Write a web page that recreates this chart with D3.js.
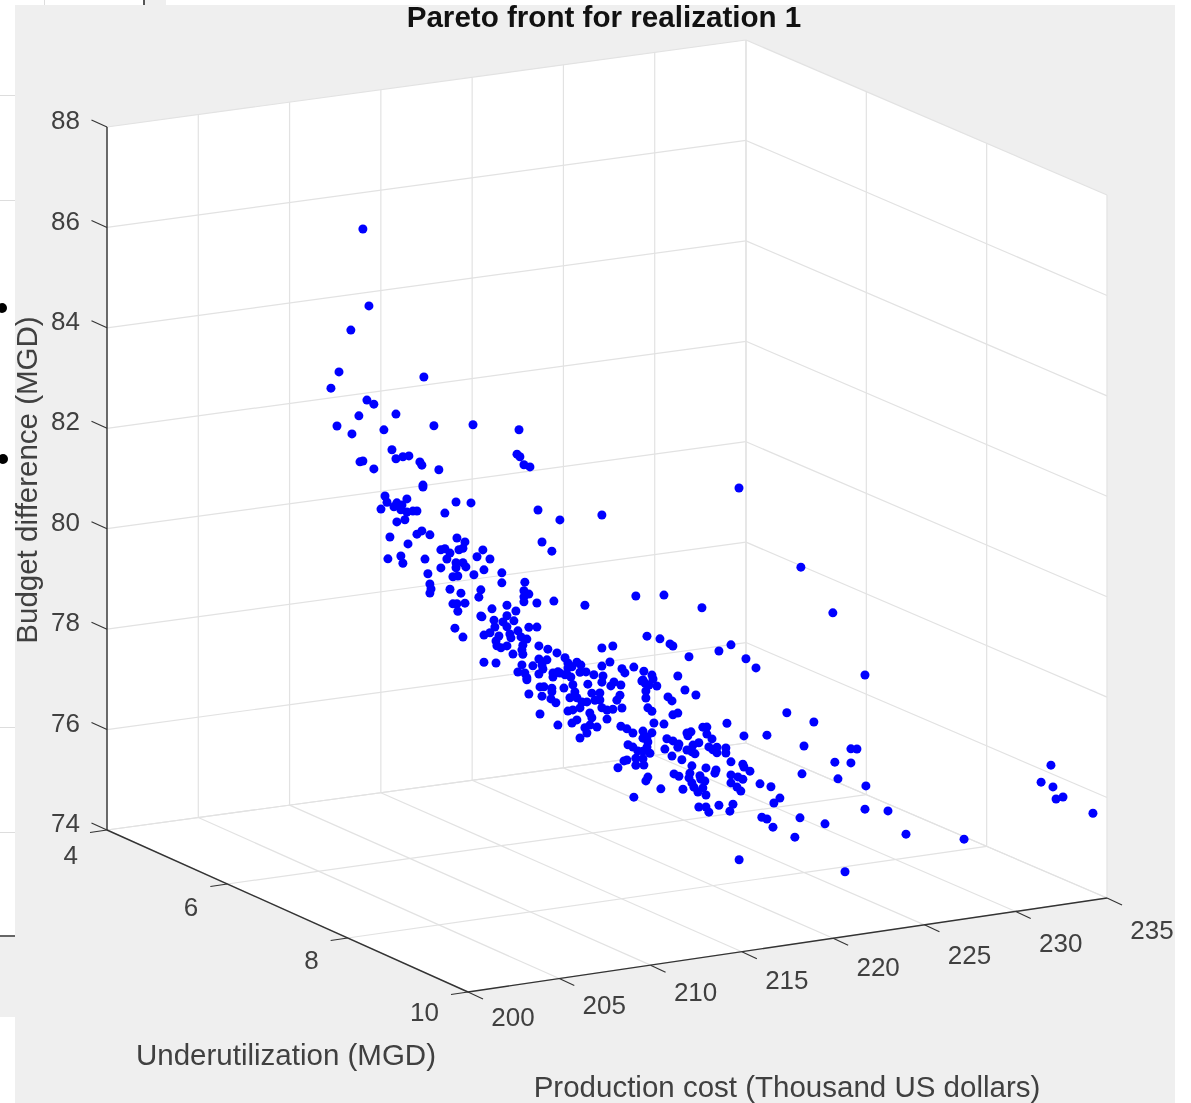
<!DOCTYPE html>
<html>
<head>
<meta charset="utf-8">
<script src="https://cdn.jsdelivr.net/npm/d3@7"></script>
<style>
  html, body { margin: 0; padding: 0; background: #fff; }
  svg { display: block; filter: blur(0.4px); }
  text { font-family: "Liberation Sans", Arial, sans-serif; }
</style>
</head>
<body>
<div id="chart"></div>
<script>
// tick labels

var costTicks = [200, 205, 210, 215, 220, 225, 230, 235];
var underTicks = [4, 6, 8, 10];
var budgetTicks = [74, 76, 78, 80, 82, 84, 86, 88];

// point values
// a single view does not show depth, so underutilization is an assumption:
// the main group is placed at underMain, and the far group at underFar
// because those dots cannot sit inside the axis box at underMain

var underMain = 7;
var underFar = 10;

var cost = [
  204.13,204.46,203.47,202.82,202.38,207.47,204.35,204.73,205.94,203.91,202.71,203.53,205.28,208.02,210.16,212.68,
  205.72,206.65,206.32,205.94,207.25,207.36,203.97,204.13,204.73,208.29,212.57,212.73,212.95,213.28,207.42,207.42,
  205.34,206.54,205.45,205.99,206.27,205.83,209.23,210.05,205.12,206.21,206.54,206.87,207.09,208.62,213.72,214.92,
  206.43,205.99,207.36,207.09,207.80,205.61,209.28,209.72,206.60,213.94,214.48,209.61,209.39,208.40,208.62,208.90,
  210.70,205.50,206.21,207.53,208.73,210.38,211.09,206.32,209.23,209.61,209.77,208.40,209.23,210.76,207.69,210.21,
  209.06,209.33,211.74,211.74,213.00,207.80,207.86,207.80,208.90,209.50,210.59,210.48,212.95,213.22,212.95,212.95,
  214.59,213.66,209.06,209.72,209.28,209.33,212.02,211.20,212.51,210.59,210.65,212.02,211.31,212.40,211.80,212.02,
  211.36,213.22,213.66,209.17,212.62,210.76,211.09,211.58,209.61,212.18,212.24,212.79,213.11,211.42,211.47,211.69,
  212.02,212.89,213.77,214.26,212.84,212.35,212.89,214.76,215.20,213.77,214.21,210.76,211.42,212.84,215.36,213.44,
  213.94,215.36,213.99,212.62,213.00,213.77,214.54,214.92,215.30,213.11,214.54,219.69,217.22,217.82,215.85,216.07,
  215.58,217.22,217.66,218.97,218.32,218.48,219.52,216.35,216.78,216.02,217.28,217.22,217.88,217.71,218.26,219.47,
  219.58,219.63,219.63,219.74,216.45,213.11,214.81,215.20,215.52,215.63,213.83,214.05,214.48,215.14,214.48,213.22,
  213.94,214.43,214.70,213.83,214.81,215.74,215.47,215.85,216.67,217.11,218.21,216.13,216.40,216.84,217.11,218.04,
  215.63,215.36,216.02,217.22,217.50,217.82,218.32,216.56,216.67,215.85,215.58,217.50,216.95,216.56,216.29,216.40,
  216.02,218.26,218.59,218.92,219.47,219.69,218.65,218.92,219.69,220.40,220.95,221.11,224.29,223.63,221.99,225.11,
  225.66,221.38,219.96,219.41,220.02,220.23,219.80,221.77,222.37,220.84,221.06,219.96,221.38,221.11,220.07,220.62,
  224.07,225.00,226.26,219.96,219.47,219.74,219.19,219.47,219.85,220.78,221.11,221.44,221.38,220.67,221.06,221.60,
  221.88,222.10,221.93,222.75,222.97,222.97,223.25,222.53,222.21,221.88,222.15,222.32,223.08,223.52,223.30,223.52,
  224.01,224.01,224.29,224.94,225.00,225.33,218.43,218.59,218.10,219.08,219.08,219.47,219.52,222.15,222.92,223.47,
  223.41,221.17,221.44,222.04,221.99,222.59,222.86,222.64,219.74,219.63,224.29,224.29,224.67,224.94,224.62,224.83,
  222.15,222.26,222.75,222.48,222.92,221.66,220.45,218.97,225.88,226.48,226.64,222.53,222.92,223.08,223.63,224.40,
  224.23,225.98,226.26,226.59,226.97,224.73,217.22,228.12,229.87,231.63,227.35,228.83,228.29,230.86,231.19,229.98,
  230.86,230.15,231.68,228.18,231.63,232.89,229.44,228.07,227.79,219.08,220.62,222.70,216.29
];

var budget = [
  87.37,85.82,85.39,84.59,84.29,84.25,83.95,83.85,83.59,83.66,83.52,83.32,83.31,83.25,83.16,82.93,
  82.89,82.72,82.72,82.70,82.57,82.50,82.74,82.75,82.56,82.36,82.45,82.39,82.22,82.16,82.10,82.06,
  81.99,81.87,81.86,81.82,81.76,81.75,81.67,81.61,81.74,81.67,81.61,81.61,81.60,81.48,81.28,81.02,
  81.46,81.44,81.19,81.14,81.09,81.16,80.95,80.85,80.97,80.63,80.42,80.73,80.71,80.76,80.77,80.67,
  80.64,80.73,80.75,80.62,80.56,80.52,80.44,80.60,80.46,80.44,80.35,80.40,80.36,80.24,80.32,80.17,
  80.19,80.19,80.13,79.93,79.88,80.11,80.01,79.93,79.95,79.84,79.85,79.71,79.71,79.63,79.59,79.49,
  79.42,79.43,79.65,79.63,79.64,79.49,79.47,79.44,79.33,79.33,79.31,79.26,79.21,79.14,79.15,79.04,
  79.07,78.97,78.95,79.16,78.93,78.94,78.97,78.88,78.96,78.89,78.81,78.80,78.74,78.79,78.69,78.64,
  78.66,78.63,78.57,78.48,78.54,78.48,78.45,78.38,78.26,78.31,78.27,78.40,78.35,78.24,78.15,78.19,
  78.18,78.05,78.10,78.11,78.07,78.01,77.99,77.97,77.93,77.97,77.91,78.46,78.35,78.36,78.14,78.07,
  78.06,77.99,78.05,77.88,77.88,77.79,77.77,77.92,77.84,77.93,77.79,77.67,77.64,77.57,77.56,77.60,
  77.53,77.37,77.23,77.03,77.67,77.93,78.00,77.92,77.86,77.70,77.75,77.74,77.69,77.66,77.62,77.64,
  77.56,77.48,77.39,77.21,76.94,77.55,77.45,77.43,77.48,77.46,77.36,77.33,77.32,77.33,77.32,77.27,
  77.20,77.19,77.22,77.16,77.10,77.10,77.10,77.09,76.99,76.99,76.94,76.92,76.79,76.85,76.81,76.70,
  76.62,76.74,76.67,76.57,76.58,76.45,76.35,76.29,76.25,78.37,78.24,78.19,78.05,77.96,77.93,77.73,
  77.52,77.58,77.67,77.58,77.59,77.44,77.48,77.28,77.15,77.19,77.10,76.95,76.84,76.82,76.71,76.66,
  76.50,76.20,76.15,76.52,76.44,76.35,76.20,76.18,76.12,76.36,76.30,76.22,76.16,76.16,76.00,75.90,
  76.42,76.43,76.36,76.49,76.48,76.34,76.23,76.19,76.16,76.08,76.03,75.98,76.08,76.05,76.01,75.94,
  76.01,75.91,75.72,75.64,75.58,75.48,76.04,76.05,75.92,76.06,75.92,76.03,75.90,75.75,75.67,75.60,
  75.54,75.64,75.58,75.61,75.52,75.53,75.41,75.46,75.65,75.58,75.46,75.30,75.40,75.34,75.20,75.11,
  75.41,75.32,75.28,75.21,75.13,75.31,75.38,75.29,75.20,75.11,74.78,74.91,74.89,74.78,74.89,74.87,
  74.74,74.53,74.48,74.30,74.86,81.15,81.00,79.40,78.40,77.07,76.54,76.28,75.83,75.64,75.62,75.42,
  75.36,75.08,74.86,75.28,74.40,74.30,74.22,74.41,74.04,79.29,79.23,78.87,79.25
];

var costFar = [223.99,227.17,214.85,220.65,231.93,231.39,232.04,232.59,232.21,234.23];
var budgetFar = [75.86,75.59,75.84,75.29,76.81,76.50,76.37,76.14,76.12,75.73];

// initial settings

var svgWidth = 1191;
var svgHeight = 1103;

var axisColor = "#333333";
var gridColor = "#e2e2e2";
var textColor = "#404040";

var svg = d3.select("#chart")
  .append("svg")
  .attr("width", svgWidth)
  .attr("height", svgHeight);

// scales: cost and underutilization to 0..1 along the floor, budget to pixels up

var uScale = d3.scaleLinear().domain([200, 235]).range([0, 1]);
var vScale = d3.scaleLinear().domain([4, 10]).range([0, 1]);
var zScale = d3.scaleLinear().domain([74, 88]).range([0, 703]);

// projection of the matlab box, the small uv term is the perspective of the view

function project(x, y, z) {
  var u = uScale(x);
  var v = vScale(y);
  return [
    107 + 639 * u + 361 * v,
    830 - 87 * u + 162 * v - 7 * u * v - zScale(z)
  ];
}

function addLine(g, a, b, color, width) {
  g.append("line")
    .attr("x1", a[0]).attr("y1", a[1])
    .attr("x2", b[0]).attr("y2", b[1])
    .attr("stroke", color)
    .attr("stroke-width", width);
}

// figure background and the bits of other windows around it

svg.append("rect")
  .attr("x", 15).attr("y", 5)
  .attr("width", 1160).attr("height", 1098)
  .attr("fill", "#efefef");

var edge = svg.append("g");
edge.append("rect").attr("x", 0).attr("y", 936).attr("width", 15).attr("height", 81).attr("fill", "#efefef");
edge.append("rect").attr("x", 145).attr("y", 0).attr("width", 21).attr("height", 5).attr("fill", "#efefef");
edge.append("rect").attr("x", 143).attr("y", 0).attr("width", 2).attr("height", 5).attr("fill", "#555555");
edge.append("rect").attr("x", 44).attr("y", 0).attr("width", 1).attr("height", 5).attr("fill", "#dddddd");
[95, 200, 727, 832].forEach(function (y) {
  edge.append("rect").attr("x", 0).attr("y", y).attr("width", 15).attr("height", 1).attr("fill", "#dddddd");
});
edge.append("rect").attr("x", 0).attr("y", 935).attr("width", 15).attr("height", 2).attr("fill", "#666666");
edge.append("circle").attr("cx", 2).attr("cy", 308).attr("r", 5).attr("fill", "#000");
edge.append("circle").attr("cx", 3).attr("cy", 459).attr("r", 5).attr("fill", "#000");

// white faces of the box

var corners = [
  project(200, 4, 88), project(235, 4, 88), project(235, 10, 88),
  project(235, 10, 74), project(200, 10, 74), project(200, 4, 74)
];

svg.append("polygon")
  .attr("points", corners.map(d => d.join(",")).join(" "))
  .attr("fill", "#fff");

// grid lines

var grid = svg.append("g");

costTicks.forEach(function (t) {
  addLine(grid, project(t, 4, 74), project(t, 4, 88), gridColor, 1.2);
  addLine(grid, project(t, 4, 74), project(t, 10, 74), gridColor, 1.2);
});

underTicks.forEach(function (t) {
  addLine(grid, project(235, t, 74), project(235, t, 88), gridColor, 1.2);
  addLine(grid, project(200, t, 74), project(235, t, 74), gridColor, 1.2);
});

budgetTicks.forEach(function (t) {
  addLine(grid, project(200, 4, t), project(235, 4, t), gridColor, 1.2);
  addLine(grid, project(235, 4, t), project(235, 10, t), gridColor, 1.2);
});

// axes and tick marks

var axes = svg.append("g");

addLine(axes, project(200, 4, 74), project(200, 4, 88), axisColor, 1.4);
addLine(axes, project(200, 4, 74), project(200, 10, 74), axisColor, 1.4);
addLine(axes, project(200, 10, 74), project(235, 10, 74), axisColor, 1.4);

budgetTicks.forEach(function (t) {
  var p = project(200, 4, t);
  addLine(axes, p, [p[0] - 15.5, p[1] - 7], axisColor, 1.1);
  axes.append("text")
    .attr("x", 80)
    .attr("y", p[1] - 7)
    .attr("dy", "0.35em")
    .attr("text-anchor", "end")
    .attr("font-size", 26)
    .attr("fill", textColor)
    .text(t);
});

underTicks.forEach(function (t) {
  var p = project(200, t, 74);
  addLine(axes, p, [p[0] - 17, p[1] + 2.5], axisColor, 1.1);
  axes.append("text")
    .attr("x", p[0] - 29)
    .attr("y", p[1] + 25 - 5 * vScale(t))
    .attr("dy", "0.35em")
    .attr("text-anchor", "end")
    .attr("font-size", 26)
    .attr("fill", textColor)
    .text(t);
});

costTicks.forEach(function (t) {
  var p = project(t, 10, 74);
  addLine(axes, p, [p[0] + 15, p[1] + 7], axisColor, 1.1);
  axes.append("text")
    .attr("x", p[0] + 45)
    .attr("y", p[1] + 25 + 7 * uScale(t))
    .attr("dy", "0.35em")
    .attr("text-anchor", "middle")
    .attr("font-size", 26)
    .attr("fill", textColor)
    .text(t);
});

// points

var points = d3.range(cost.length).map(i => [cost[i], underMain, budget[i]])
  .concat(d3.range(costFar.length).map(i => [costFar[i], underFar, budgetFar[i]]));

svg.append("g")
  .selectAll("circle")
  .data(points)
  .enter()
  .append("circle")
  .attr("cx", d => project(d[0], d[1], d[2])[0])
  .attr("cy", d => project(d[0], d[1], d[2])[1])
  .attr("r", 4.5)
  .attr("fill", "#0000ff");

// title and axis labels

svg.append("text")
  .attr("x", 604)
  .attr("y", 27)
  .attr("text-anchor", "middle")
  .attr("font-size", 29.6)
  .attr("font-weight", "bold")
  .attr("fill", "#111")
  .text("Pareto front for realization 1");

svg.append("text")
  .attr("x", 286)
  .attr("y", 1065)
  .attr("text-anchor", "middle")
  .attr("font-size", 29.5)
  .attr("fill", textColor)
  .text("Underutilization (MGD)");

svg.append("text")
  .attr("x", 787)
  .attr("y", 1097)
  .attr("text-anchor", "middle")
  .attr("font-size", 29.5)
  .attr("fill", textColor)
  .text("Production cost (Thousand US dollars)");

svg.append("text")
  .attr("transform", "translate(37, 480) rotate(-90)")
  .attr("text-anchor", "middle")
  .attr("font-size", 29.5)
  .attr("fill", textColor)
  .text("Budget difference (MGD)");
</script>
</body>
</html>
